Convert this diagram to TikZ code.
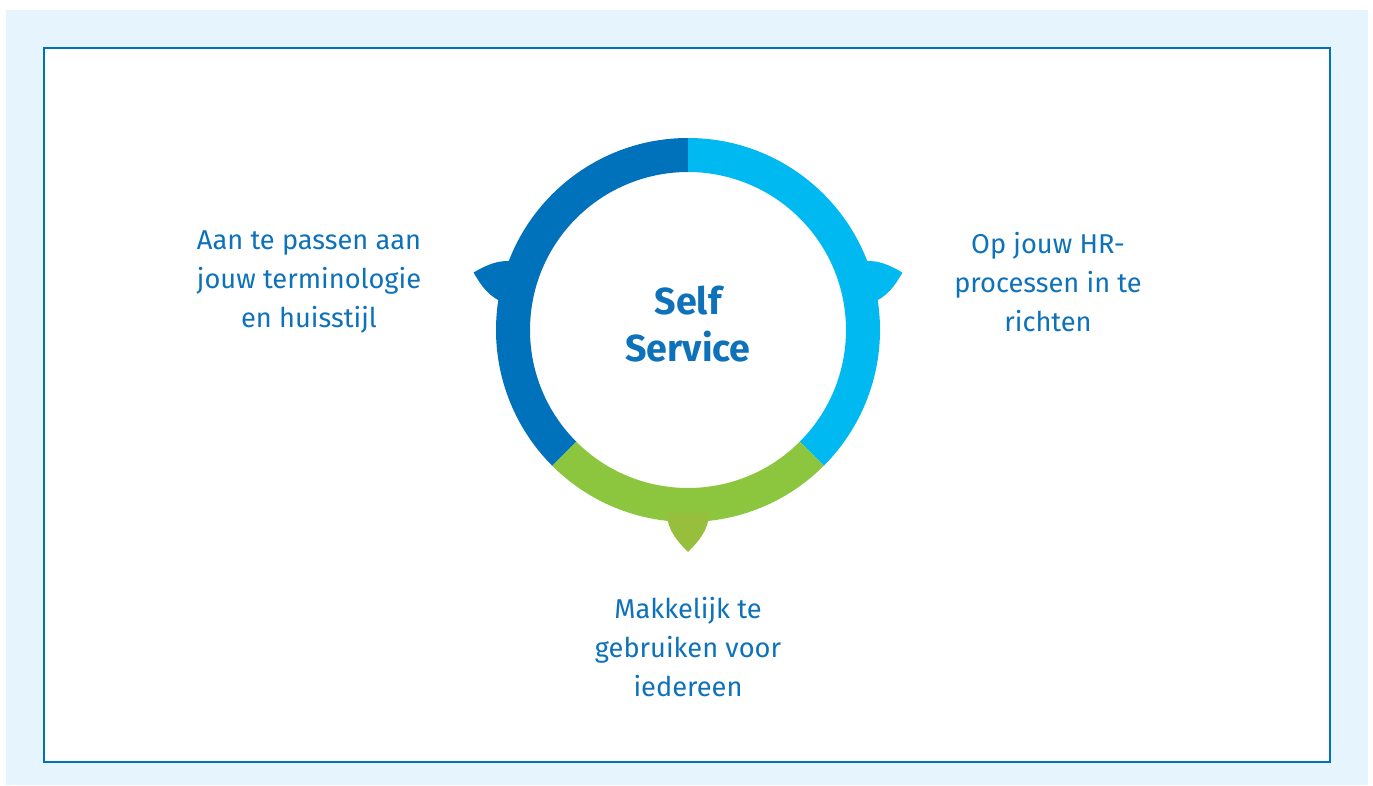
\documentclass[tikz,border=0pt]{standalone}
\usepackage{fontspec}
\setmainfont{Fira Sans}
\definecolor{ringdark}{HTML}{0071BB}
\definecolor{ringlight}{HTML}{00B9F1}
\definecolor{ringgreen}{HTML}{8CC63F}
\definecolor{tabgreen}{HTML}{97BF3D}
\definecolor{panelbg}{HTML}{E6F5FD}
\definecolor{textblue}{HTML}{0E72BA}

\begin{document}
\begin{tikzpicture}[x=0.02cm, y=0.02cm,
        sidetext/.style={align=center, text=textblue, inner sep=0pt,
            font=\fontsize{15.5}{22}\selectfont},
        hubtext/.style={align=center, text=textblue, inner sep=0pt,
            font=\fontsize{21.4}{26.6}\selectfont\bfseries}]
            \useasboundingbox (0, 0) rectangle (1373, 785);
            \fill[panelbg] (6, 0) rectangle (1368, 775);
            \filldraw[draw=ringdark, line width=1.5pt, fill=white] (44, 23) rectangle (1330, 737);

            \begin{scope}[shift={(688, 455)}]
                \fill[ringdark] (90:192) arc (90:225:192) -- (225:158) arc (225:90:158) -- cycle;
                \fill[ringlight] (90:192) arc (90:-45:192) -- (-45:158) arc (-45:90:158) -- cycle;
                \fill[ringgreen] (225:192) arc (225:315:192) -- (315:158) arc (315:225:158) -- cycle;
                \begin{scope}[rotate=165]
                    \fill[ringdark] (183, 21) .. controls (200, 21) and (212, 10) .. (222, 0)
                        .. controls (212, -10) and (200, -21) .. (183, -21) -- cycle;
                \end{scope}
                \begin{scope}[rotate=15]
                    \fill[ringlight] (183, 21) .. controls (200, 21) and (212, 10) .. (222, 0)
                        .. controls (212, -10) and (200, -21) .. (183, -21) -- cycle;
                \end{scope}
                \begin{scope}[rotate=270]
                    \fill[tabgreen] (183, 21) .. controls (200, 21) and (212, 10) .. (222, 0)
                        .. controls (212, -10) and (200, -21) .. (183, -21) -- cycle;
                \end{scope}
            \end{scope}

            \node[hubtext] (hub) at (688, 461) {Self\\Service};
            \node[sidetext] (terms) at (309, 503) {Aan te passen aan\\jouw terminologie\\en huisstijl};
            \node[sidetext] (processes) at (1048, 503) {Op jouw HR-\\processen in te\\richten};
            \node[sidetext] (users) at (688, 138) {Makkelijk te\\gebruiken voor\\iedereen};
        \end{tikzpicture}
\end{document}
